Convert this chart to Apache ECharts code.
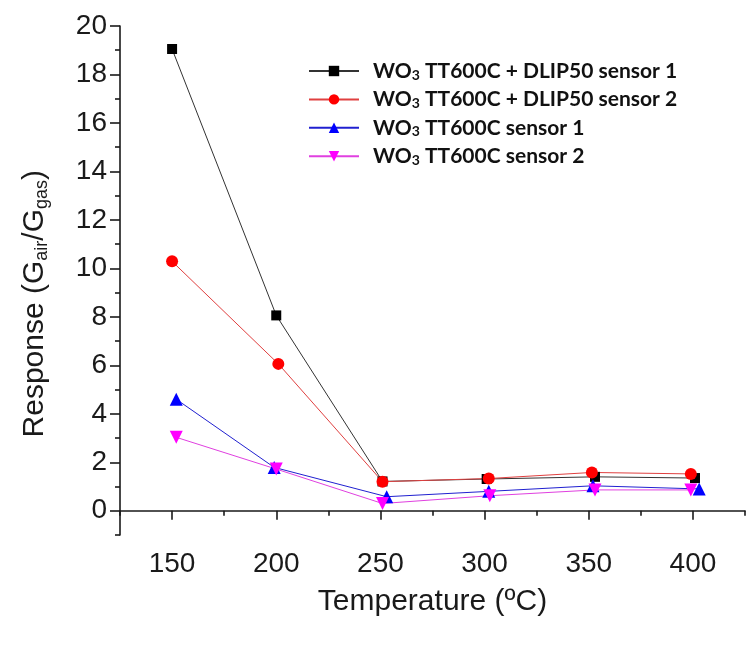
<!DOCTYPE html>
<html>
<head>
<meta charset="utf-8">
<script src="https://cdn.jsdelivr.net/npm/echarts@6/dist/echarts.min.js"></script>
<style>
html,body{margin:0;padding:0;background:#fff;}
#c{width:747px;height:650px;}
</style>
</head>
<body>
<div id="c"></div>
<script>
// Temperature (°C) for each series point
const tempS1 = [150, 200, 251, 301, 353, 401];
const respS1 = [19.05, 8.06, 1.21, 1.31, 1.40, 1.35];
const tempS2 = [150, 201, 251, 302, 351.5, 399];
const respS2 = [10.29, 6.06, 1.20, 1.33, 1.58, 1.52];
const tempS3 = [152, 199, 253, 302, 352, 403];
const respS3 = [4.60, 1.79, 0.58, 0.80, 1.03, 0.90];
const tempS4 = [152, 200, 251, 302.5, 353, 399];
const respS4 = [3.03, 1.72, 0.30, 0.62, 0.86, 0.86];
const seriesNames = ['s1', 's2', 's3', 's4'];
const legendLabels = {
  s1: '{b0|WO}{sub|3}{b| TT600C + DLIP50 sensor 1}',
  s2: '{b0|WO}{sub|3}{b| TT600C + DLIP50 sensor 2}',
  s3: '{b0|WO}{sub|3}{b| TT600C sensor 1}',
  s4: '{b0|WO}{sub|3}{b| TT600C sensor 2}'
};
const xMajor = [150, 200, 250, 300, 350, 400];
const xMinor = [125, 175, 225, 275, 325, 375, 425];
const yMajor = [0, 2, 4, 6, 8, 10, 12, 14, 16, 18, 20];
const yMinor = [-1, 1, 3, 5, 7, 9, 11, 13, 15, 17, 19];

function pairs(xs, ys) { return xs.map((x, i) => [x, ys[i]]); }

const chart = echarts.init(document.getElementById('c'), null, {renderer: 'canvas'});
const axisCol = '#1a1a1a';
const labelFont = {color: '#1a1a1a', fontFamily: 'Liberation Sans, Arial', fontSize: 28};
const legFont = {fontFamily: 'Lato', fontWeight: 'bold', fontSize: 21, color: '#111', lineHeight: 22};

chart.setOption({
  animation: false,
  backgroundColor: '#fff',
  grid: {left: 120, right: 2, top: 26, bottom: 115, containLabel: false},
  xAxis: [{
    type: 'value', min: 125, max: 425,
    axisLine: {show: true, lineStyle: {color: axisCol, width: 1.6}},
    axisTick: {show: true, inside: false, length: 9, customValues: xMajor, lineStyle: {color: axisCol, width: 1.6}},
    axisLabel: Object.assign({customValues: xMajor, margin: 15}, labelFont),
    splitLine: {show: false},
    name: 'Temperature (ºC)', nameLocation: 'middle', nameGap: 52,
    nameTextStyle: {color: '#1a1a1a', fontFamily: 'Liberation Sans, Arial', fontSize: 30}
  }, {
    type: 'value', min: 125, max: 425, position: 'bottom',
    axisLine: {show: false},
    axisTick: {show: true, inside: false, length: 5, customValues: xMinor, lineStyle: {color: axisCol, width: 1.6}},
    axisLabel: {show: false},
    splitLine: {show: false}
  }],
  yAxis: [{
    type: 'value', min: -1, max: 20,
    axisLine: {show: true, lineStyle: {color: axisCol, width: 1.6}},
    axisTick: {show: true, inside: false, length: 10, customValues: yMajor, lineStyle: {color: axisCol, width: 1.6}},
    axisLabel: Object.assign({customValues: yMajor, margin: 13}, labelFont),
    splitLine: {show: false}
  }, {
    type: 'value', min: -1, max: 20, position: 'left',
    axisLine: {show: false},
    axisTick: {show: true, inside: false, length: 5, customValues: yMinor, lineStyle: {color: axisCol, width: 1.6}},
    axisLabel: {show: false},
    splitLine: {show: false}
  }],
  legend: {
    orient: 'vertical', left: 308, top: 58, padding: 0, itemWidth: 50, itemHeight: 13, itemGap: 4.4,
    data: seriesNames,
    formatter: n => legendLabels[n],
    textStyle: {
      rich: {
        b0: Object.assign({padding: [0, 0, 0, 9]}, legFont),
        b: legFont,
        sub: {fontFamily: 'Lato', fontWeight: 'bold', fontSize: 14, color: '#111', verticalAlign: 'bottom', padding: [10, 0, 0, 0], lineHeight: 22}
      }
    }
  },
  graphic: [{
    type: 'text', left: 20, top: 170, rotation: Math.PI / 2,
    style: {
      text: '{m|Response (G}{s|air}{m|/G}{s|gas}{m|)}',
      rich: {
        m: {fontFamily: 'Liberation Sans, Arial', fontSize: 30, fill: '#1a1a1a'},
        s: {fontFamily: 'Liberation Sans, Arial', fontSize: 18, fill: '#1a1a1a', padding: [14, 0, 0, 0]}
      }
    }
  }],
  series: [
    {name: 's1', type: 'line', data: pairs(tempS1, respS1), symbol: 'rect', symbolSize: 10,
     itemStyle: {color: '#000'}, lineStyle: {color: '#333', width: 1}},
    {name: 's2', type: 'line', data: pairs(tempS2, respS2), symbol: 'circle', symbolSize: 12,
     itemStyle: {color: '#ff0000'}, lineStyle: {color: '#e04040', width: 1}},
    {name: 's3', type: 'line', data: pairs(tempS3, respS3), symbol: 'triangle', symbolSize: 13,
     itemStyle: {color: '#0000ff'}, lineStyle: {color: '#2020d0', width: 1}},
    {name: 's4', type: 'line', data: pairs(tempS4, respS4), symbol: 'triangle', symbolRotate: 180, symbolSize: 13,
     itemStyle: {color: '#ff00ff'}, lineStyle: {color: '#e040e0', width: 1}}
  ]
});
</script>
</body>
</html>
